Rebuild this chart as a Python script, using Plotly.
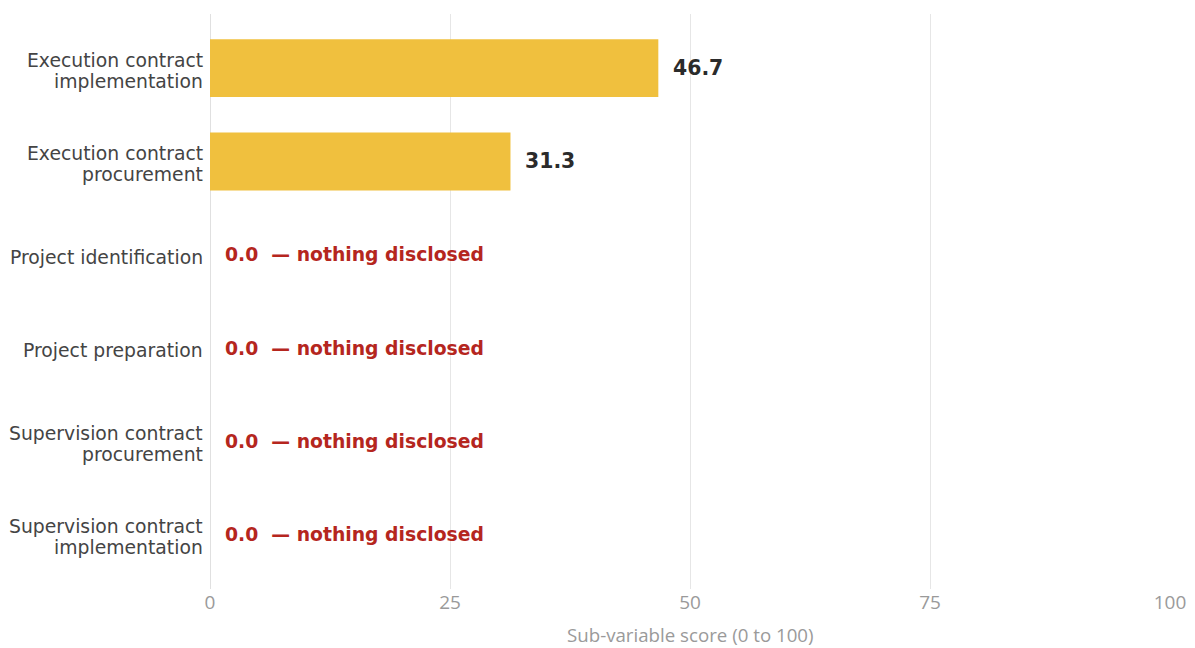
import plotly.graph_objects as go

categories = [
    "Execution contract implementation",
    "Execution contract procurement",
    "Project identification",
    "Project preparation",
    "Supervision contract procurement",
    "Supervision contract implementation",
]
# How each category name is broken over lines next to the axis
category_lines = [
    ["Execution contract", "implementation"],
    ["Execution contract", "procurement"],
    ["Project identification"],
    ["Project preparation"],
    ["Supervision contract", "procurement"],
    ["Supervision contract", "implementation"],
]
scores = [46.7, 31.3, 0.0, 0.0, 0.0, 0.0]
x_ticks = [0, 25, 50, 75, 100]
x_title = "Sub-variable score (0 to 100)"

BAR_COLOR = "#F0C03E"
ZERO_COLOR = "#B5261E"
LABEL_COLOR = "#2B2B2B"
CAT_COLOR = "#444444"
AXIS_GREY = "#9A9A9A"
FONT = "DejaVu Sans, Verdana, sans-serif"

fig = go.Figure(
    go.Bar(
        x=scores,
        y=categories,
        orientation="h",
        marker=dict(color=BAR_COLOR, line=dict(width=0)),
        width=0.62,
        hoverinfo="skip",
    )
)

# Value labels to the right of each bar
for cat, val in zip(categories, scores):
    if val == 0:
        text = f"{val:.1f}  \u2014 nothing disclosed"
        color, size = ZERO_COLOR, 18.8
    else:
        text = f"{val:.1f}"
        color, size = LABEL_COLOR, 20.4
    fig.add_annotation(
        x=val, y=cat, text=f"<b>{text}</b>", showarrow=False,
        xanchor="left", yanchor="middle", xshift=13,
        font=dict(family=FONT, size=size, color=color),
    )

# Category names, right-aligned against the plot's left edge
LINE_GAP = 21
for cat, lines in zip(categories, category_lines):
    n = len(lines)
    for i, line in enumerate(lines):
        offset = ((n - 1) / 2 - i) * LINE_GAP - 2.5
        fig.add_annotation(
            x=0, xref="paper", y=cat, yref="y", text=line, showarrow=False,
            xanchor="right", yanchor="middle", xshift=-5, yshift=offset,
            font=dict(family=FONT, size=18.8, color=CAT_COLOR),
        )

# x-axis title, centred under the plot
fig.add_annotation(
    x=0.5, xref="paper", y=0, yref="paper", text=x_title, showarrow=False,
    xanchor="center", yanchor="middle", yshift=-45,
    font=dict(family="Open Sans", size=18.7, color=AXIS_GREY),
)

fig.update_layout(
    width=1195, height=648,
    margin=dict(l=210, r=25, t=14, b=59),
    paper_bgcolor="white", plot_bgcolor="white",
    showlegend=False,
    font=dict(family=FONT, color=CAT_COLOR),
)
fig.update_xaxes(
    range=[0, 100], tickvals=x_ticks, automargin=False,
    showgrid=True, gridcolor="#E6E6E6", gridwidth=1,
    zeroline=True, zerolinecolor="#E0E0E0", zerolinewidth=1,
    showline=False, ticks="",
    tickfont=dict(family="Open Sans", size=19, color=AXIS_GREY),
)
fig.update_yaxes(
    categoryorder="array", categoryarray=categories,
    range=[5.58, -0.58], automargin=False,
    showgrid=False, showline=False, ticks="", showticklabels=False,
)

fig.write_html("out.html")
